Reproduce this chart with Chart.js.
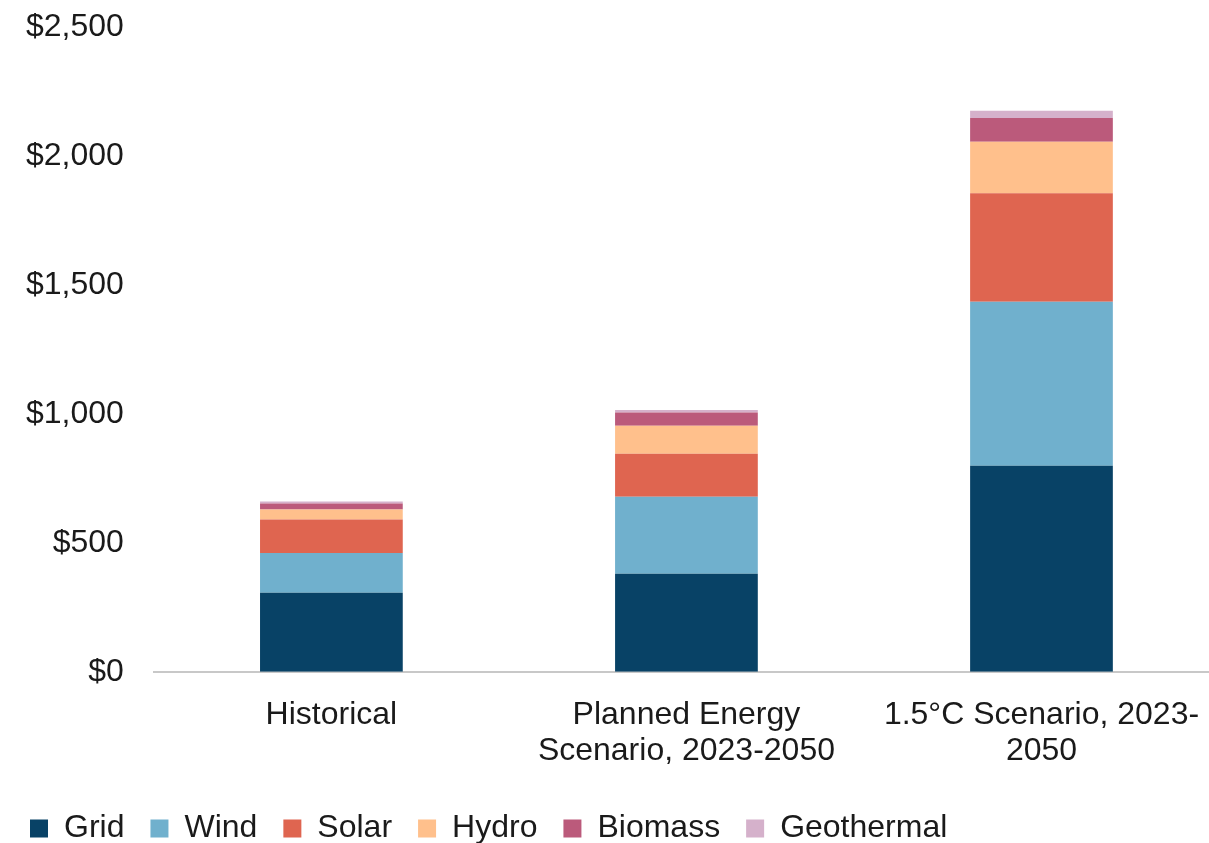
<!DOCTYPE html>
<html>
<head>
<meta charset="utf-8">
<script src="https://cdn.jsdelivr.net/npm/chart.js@4/dist/chart.umd.min.js"></script>
<style>
  html, body { margin: 0; padding: 0; background: #fff; overflow: hidden; }
  #wrap { width: 1219px; height: 857px; margin-top: -14px; }
</style>
</head>
<body>
<div id="wrap"><canvas id="myChart"></canvas></div>
<script>
const categories = ['Historical', ['Planned Energy', 'Scenario, 2023-2050'], ['1.5°C Scenario, 2023-', '2050']];
const grid = [307, 380, 799];
const wind = [154, 299, 636];
const solar = [130, 167, 421];
const hydro = [39, 108, 200];
const biomass = [23, 52, 92];
const geothermal = [8, 9, 28];
const yTicks = [0, 500, 1000, 1500, 2000, 2500];

const ctx = document.getElementById('myChart');
const font = { family: 'Liberation Sans', size: 32 };

function ds(label, data, color) {
    return {
        label: label,
        data: data,
        backgroundColor: color,
        borderWidth: 0,
        barPercentage: 0.6,
        categoryPercentage: 0.67
    };
}

new Chart(ctx, {
    type: 'bar',
    data: {
        labels: categories,
        datasets: [
            ds('Grid', grid, '#084266'),
            ds('Wind', wind, '#70b0cd'),
            ds('Solar', solar, '#df6550'),
            ds('Hydro', hydro, '#ffc08c'),
            ds('Biomass', biomass, '#bb5a7b'),
            ds('Geothermal', geothermal, '#d5b1cb')
        ]
    },
    options: {
        responsive: true,
        maintainAspectRatio: false,
        animation: false,
        layout: { padding: { top: 0, right: 0, left: 4, bottom: -11.5 } },
        scales: {
            x: {
                stacked: true,
                grid: { display: false },
                border: { color: '#c8c8c8', width: 2 },
                ticks: {
                    color: '#1a1a1a',
                    font: { family: font.family, size: 32, lineHeight: 1.12 },
                    maxRotation: 0,
                    padding: 17.5
                }
            },
            y: {
                stacked: true,
                min: 0,
                max: 2500,
                afterBuildTicks: function (axis) {
                    axis.ticks = yTicks.map(v => ({ value: v }));
                },
                grid: { display: false },
                border: { display: false },
                ticks: {
                    color: '#1a1a1a',
                    font: font,
                    padding: 22,
                    callback: v => '$' + v.toLocaleString('en-US')
                }
            }
        },
        plugins: {
            tooltip: { enabled: false },
            legend: {
                position: 'bottom',
                align: 'start',
                labels: {
                    color: '#1a1a1a',
                    font: font,
                    boxWidth: 18,
                    boxHeight: 18,
                    padding: 26
                }
            }
        }
    }
});
</script>
</body>
</html>
